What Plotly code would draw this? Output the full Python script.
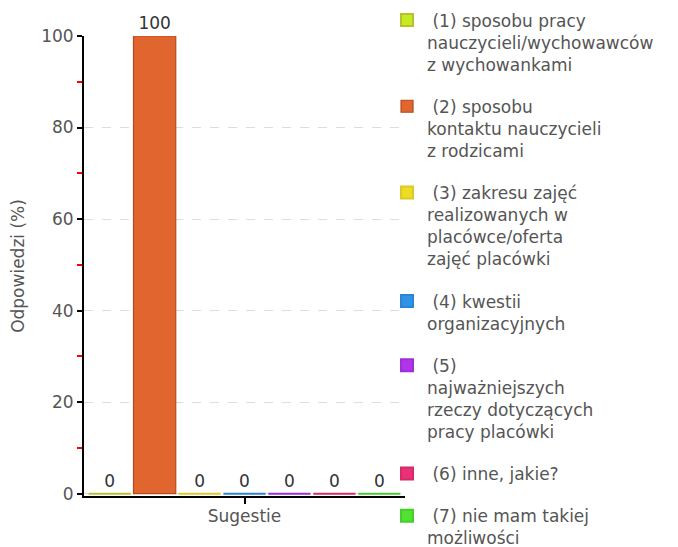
import plotly.graph_objects as go

category = ["Sugestie"]
series_names = [
    "\u00a0(1) sposobu pracy<br>nauczycieli/wychowawców<br>z wychowankami",
    "\u00a0(2) sposobu<br>kontaktu nauczycieli<br>z rodzicami",
    "\u00a0(3) zakresu zajęć<br>realizowanych w<br>placówce/oferta<br>zajęć placówki",
    "\u00a0(4) kwestii<br>organizacyjnych",
    "\u00a0(5)<br>najważniejszych<br>rzeczy dotyczących<br>pracy placówki",
    "\u00a0(6) inne, jakie?",
    "\u00a0(7) nie mam takiej<br>możliwości",
]
values = [0, 100, 0, 0, 0, 0, 0]
fill_colors = ["#c4ec22", "#e0652e", "#ecdc22", "#2f94e8", "#b234ea", "#ea3178", "#52e232"]
edge_colors = ["#b8c030", "#b54a1c", "#dcc82a", "#2a86d2", "#9e2ed6", "#d42a68", "#48cc2c"]

fig = go.Figure()
for i, (name, val) in enumerate(zip(series_names, values)):
    fig.add_trace(go.Bar(
        x=category,
        y=[val],
        name=name,
        legendgroup=f"g{i}",
        marker=dict(color=fill_colors[i], line=dict(color=edge_colors[i], width=2 if val == 0 else 1.2)),
        text=[str(val)],
        textposition="outside",
        textfont=dict(family="DejaVu Sans", size=17, color="#333333"),
        cliponaxis=False,
    ))

fig.update_layout(
    width=678,
    height=547,
    margin=dict(l=84, r=273, t=36, b=51, autoexpand=False),
    paper_bgcolor="white",
    plot_bgcolor="white",
    barmode="group",
    bargap=0.02,
    bargroupgap=0.06,
    font=dict(family="DejaVu Sans", size=17, color="#555555"),
    showlegend=True,
    legend=dict(
        x=0.944, xanchor="left",
        y=1.073, yanchor="top",
        font=dict(family="DejaVu Sans", size=17, color="#555555"),
        tracegroupgap=17,
        itemwidth=30,
        valign="top",
        maxheight=600,
        bgcolor="rgba(0,0,0,0)",
    ),
    xaxis=dict(
        showline=True, linecolor="#000000", linewidth=2,
        ticks="outside", ticklen=6, tickcolor="#000000", tickwidth=2,
        showgrid=False,
        title=dict(text="Sugestie", standoff=2, font=dict(size=17, color="#555555")),
        tickfont=dict(size=1, color="rgba(0,0,0,0)"),
    ),
    yaxis=dict(
        range=[-0.5, 100],
        tickvals=[0, 20, 40, 60, 80, 100],
        showline=True, linecolor="#000000", linewidth=2,
        ticks="outside", ticklen=5, tickcolor="#000000", tickwidth=2,
        showgrid=True, gridcolor="#dddddd", griddash="dash", gridwidth=1,
        zeroline=False,
        tickfont=dict(size=17, color="#555555"),
        minor=dict(tickvals=[10, 30, 50, 70, 90], ticks="outside", ticklen=5,
                   tickcolor="#ff0000", tickwidth=1.5, showgrid=False),
        title=dict(text="Odpowiedzi (%)", standoff=12, font=dict(size=17, color="#555555")),
    ),
)

fig.write_html("out.html")
